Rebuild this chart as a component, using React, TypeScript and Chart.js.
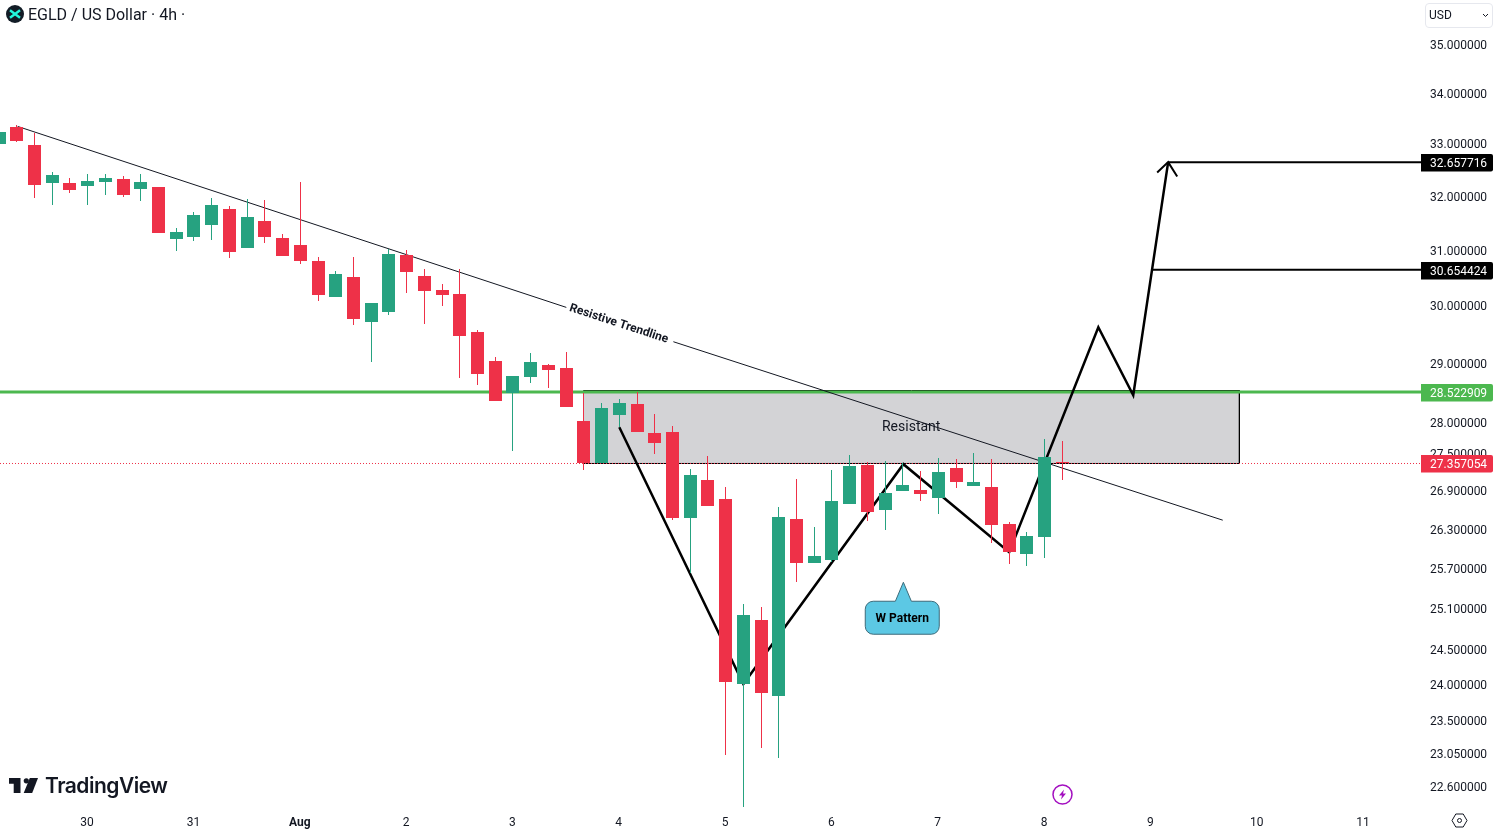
import React, { useEffect, useRef } from "react";
import { Chart, registerables } from "chart.js";

Chart.register(...registerables);

const firstCandle = -5;
const opens = [33.0, 33.332, 32.98, 32.251, 32.251, 32.194, 32.27, 32.327, 32.138, 32.175, 31.206, 31.243, 31.464, 31.761, 31.041, 31.538, 31.225, 31.096, 30.804, 30.158, 30.515, 29.718, 29.893, 30.913, 30.533, 30.283, 30.211, 29.543, 29.043, 28.502, 28.771, 28.975, 28.924, 28.036, 27.352, 28.135, 28.318, 27.839, 27.855, 26.481, 27.08, 26.778, 24.016, 24.938, 23.847, 26.465, 25.788, 25.834, 26.7, 27.32, 26.606, 26.905, 26.921, 26.794, 27.271, 26.984, 26.968, 26.387, 25.925, 26.186, 27.374];
const closes = [33.234, 33.059, 32.213, 32.404, 32.119, 32.289, 32.346, 32.024, 32.27, 31.316, 31.335, 31.649, 31.836, 30.967, 31.612, 31.243, 30.895, 30.804, 30.193, 30.569, 29.771, 30.052, 30.931, 30.605, 30.265, 30.193, 29.473, 28.822, 28.368, 28.788, 29.026, 28.89, 28.268, 27.352, 28.251, 28.335, 27.855, 27.675, 26.481, 27.159, 26.669, 24.044, 25.011, 23.889, 26.496, 25.788, 25.895, 26.747, 27.304, 26.574, 26.873, 27.0, 26.857, 27.207, 27.048, 27.048, 26.371, 25.955, 26.201, 27.449, 27.357054];
const highs = [33.27, 33.371, 33.215, 32.461, 32.346, 32.423, 32.423, 32.384, 32.423, 32.175, 31.408, 31.705, 31.968, 31.817, 31.949, 31.93, 31.298, 32.27, 30.877, 30.623, 30.877, 30.052, 31.023, 31.004, 30.66, 30.39, 30.66, 29.578, 29.111, 28.788, 29.18, 28.992, 29.197, 28.502, 28.335, 28.401, 28.519, 28.152, 27.954, 27.255, 27.465, 26.968, 25.174, 25.13, 26.653, 27.095, 26.34, 27.239, 27.481, 27.368, 27.384, 27.352, 27.223, 27.432, 27.416, 27.513, 27.416, 26.418, 26.263, 27.74, 27.708];
const lows = [32.961, 33.039, 31.968, 31.836, 32.062, 31.836, 32.024, 31.986, 31.911, 31.316, 30.986, 31.169, 31.188, 30.859, 31.041, 31.132, 30.895, 30.75, 30.087, 30.158, 29.665, 29.026, 29.84, 30.229, 29.683, 29.999, 28.754, 28.636, 28.368, 27.546, 28.67, 28.586, 28.268, 27.239, 27.352, 27.938, 27.855, 27.497, 26.449, 25.637, 26.669, 23.033, 22.34, 23.128, 22.993, 25.502, 25.788, 25.803, 26.7, 26.434, 26.294, 26.905, 26.747, 26.543, 26.952, 26.984, 26.093, 25.773, 25.743, 25.864, 27.08];

const priceTicks = [35, 34, 33, 32, 31, 30, 29, 28, 27.5, 26.9, 26.3, 25.7, 25.1, 24.5, 24, 23.5, 23.05, 22.6];
const dayTickIndex = [0, 6, 12, 18, 24, 30, 36, 42, 48, 54, 60, 66, 72];
const dayLabels = ["30", "31", "Aug", "2", "3", "4", "5", "6", "7", "8", "9", "10", "11"];

const trendA = [{ x: -3.95, y: 33.352 }, { x: 27.01, y: 29.98 }];
const trendB = [{ x: 33.05, y: 29.38 }, { x: 64.05, y: 26.449 }];
const wPath = [
  { x: 30.0, y: 27.938 }, { x: 37.0, y: 24.016 }, { x: 46.03, y: 27.336 }, { x: 52.0, y: 25.955 },
  { x: 57.03, y: 29.631 }, { x: 59.0, y: 28.468 }, { x: 60.97, y: 32.657716 },
];
const arrowHead = [{ x: 60.35, y: 32.461 }, { x: 60.97, y: 32.657716 }, { x: 61.48, y: 32.384 }];
const zone = [
  { x: 27.98, y: 28.548 }, { x: 64.99, y: 28.548 }, { x: 64.99, y: 27.347 }, { x: 27.98, y: 27.347 }, { x: 27.98, y: 28.548 },
];

const target1 = 32.657716;
const target2 = 30.654424;
const supportLevel = 28.522909;
const lastPrice = 27.357054;
const lastPriceLine = 27.347;
const xMin = -4.9458;
const xMax = 75.237;
const yMin = 22.325;
const yMax = 35.93;

const RED = "#ee3148";
const GREEN = "#26a280";
const INK = "#131722";
const LEVEL_GREEN = "#4cb84f";

const upOrDown = opens.map((o, i) => (closes[i] >= o ? GREEN : RED));

const snapBars = {
  id: "snapBars",
  afterDatasetsUpdate(chart: any) {
    chart.data.datasets.forEach((ds: any, di: number) => {
      if (ds.type !== "bar") return;
      chart.getDatasetMeta(di).data.forEach((el: any) => {
        el.x = Math.floor(el.x) + 0.5;
        el.y = Math.round(el.y);
        el.base = Math.round(el.base);
        if (Math.abs(el.base - el.y) < 1) el.base = el.y + 1;
      });
    });
  },
};

const annotations = {
  id: "annotations",
  afterDatasetsDraw(chart: any) {
    const { ctx, scales } = chart;
    const sx = scales.x;
    const sy = scales.y;
    ctx.save();
    // trendline caption
    const cx = sx.getPixelForValue(29.97);
    const cy = sy.getPixelForValue(29.69);
    ctx.translate(cx, cy);
    ctx.rotate(Math.atan(0.327));
    ctx.font = "bold 12px Roboto";
    ctx.fillStyle = INK;
    ctx.textAlign = "center";
    ctx.textBaseline = "middle";
    ctx.fillText("Resistive Trendline", 0, 0);
    ctx.restore();

    ctx.save();
    ctx.font = "14px Roboto";
    ctx.fillStyle = INK;
    ctx.textAlign = "center";
    ctx.textBaseline = "middle";
    ctx.fillText("Resistant", sx.getPixelForValue(46.47), sy.getPixelForValue(27.93));

    // callout
    const mid = sx.getPixelForValue(46);
    const by = sy.getPixelForValue(25.32);
    const left = mid - 37.6;
    const right = left + 74;
    const top = by + 7;
    const h = 33;
    const r = 8;
    ctx.beginPath();
    ctx.moveTo(left + r, top);
    ctx.lineTo(mid - 7.5, top);
    ctx.lineTo(mid + 0.5, top - 19);
    ctx.lineTo(mid + 8.5, top);
    ctx.lineTo(right - r, top);
    ctx.arcTo(right, top, right, top + r, r);
    ctx.lineTo(right, top + h - r);
    ctx.arcTo(right, top + h, right - r, top + h, r);
    ctx.lineTo(left + r, top + h);
    ctx.arcTo(left, top + h, left, top + h - r, r);
    ctx.lineTo(left, top + r);
    ctx.arcTo(left, top, left + r, top, r);
    ctx.closePath();
    ctx.fillStyle = "#5cc8e4";
    ctx.fill();
    ctx.strokeStyle = "#3d6b7a";
    ctx.lineWidth = 1;
    ctx.stroke();
    ctx.fillStyle = "#000";
    ctx.font = "bold 12px Roboto";
    ctx.fillText("W Pattern", (left + right) / 2, top + h / 2 + 1.5);
    ctx.restore();
  },
  afterDraw(chart: any) {
    const { ctx, scales } = chart;
    const sy = scales.y;
    const tags = [
      { v: target1, c: "#000000" },
      { v: target2, c: "#000000" },
      { v: supportLevel, c: LEVEL_GREEN },
      { v: lastPrice, c: RED },
    ];
    ctx.save();
    ctx.font = "12px Roboto";
    ctx.textAlign = "left";
    ctx.textBaseline = "middle";
    tags.forEach(({ v, c }) => {
      const yc = Math.round(sy.getPixelForValue(v));
      ctx.fillStyle = c;
      ctx.beginPath();
      ctx.roundRect(1421, yc - 8, 72, 17.5, [0, 2, 2, 0]);
      ctx.fill();
      ctx.fillStyle = "#ffffff";
      ctx.fillText(v.toFixed(6), 1430, yc + 2);
    });
    ctx.restore();
  },
};

export default function App() {
  const ref = useRef<HTMLCanvasElement | null>(null);

  useEffect(() => {
    document.body.style.margin = "0";
    document.body.style.background = "#fff";
    const lineBase = { type: "line", pointRadius: 0, tension: 0, fill: false };
    const chart = new Chart(ref.current as HTMLCanvasElement, {
      type: "bar",
      data: {
        datasets: [
          {
            type: "bar",
            label: "Body",
            order: 0,
            data: opens.map((o, i) => ({ x: firstCandle + i, y: [o, closes[i]] })),
            backgroundColor: upOrDown,
            barThickness: 13,
            grouped: false,
            inflateAmount: 0,
            borderWidth: 0,
          },
          {
            type: "bar",
            label: "Wick",
            order: 1,
            data: lows.map((l, i) => ({ x: firstCandle + i, y: [l, highs[i]] })),
            backgroundColor: upOrDown,
            barThickness: 1,
            grouped: false,
            inflateAmount: 0,
            borderWidth: 0,
          },
          { ...lineBase, label: "Trend A", order: 2, data: trendA, borderColor: "#131722", borderWidth: 1 },
          { ...lineBase, label: "Trend B", order: 2, data: trendB, borderColor: "#131722", borderWidth: 1 },
          { ...lineBase, label: "W", order: 3, data: wPath, borderColor: "#000", borderWidth: 2.5 },
          { ...lineBase, label: "Arrow", order: 3, data: arrowHead, borderColor: "#000", borderWidth: 2 },
          { ...lineBase, label: "T1", order: 3, data: [{ x: 60.97, y: target1 }, { x: xMax, y: target1 }], borderColor: "#000", borderWidth: 2 },
          { ...lineBase, label: "T2", order: 3, data: [{ x: 60, y: target2 }, { x: xMax, y: target2 }], borderColor: "#000", borderWidth: 2 },
          { ...lineBase, label: "Support", order: 4, data: [{ x: xMin, y: supportLevel }, { x: xMax, y: supportLevel }], borderColor: LEVEL_GREEN, borderWidth: 3 },
          { ...lineBase, label: "Last", order: 4, data: [{ x: xMin, y: lastPriceLine }, { x: xMax, y: lastPriceLine }], borderColor: RED, borderWidth: 1, borderDash: [1, 2] },
          { ...lineBase, label: "Zone", order: 5, data: zone, fill: "shape", backgroundColor: "#d3d3d6", borderColor: "#000", borderWidth: 1 },
        ],
      } as any,
      options: {
        responsive: false,
        animation: false,
        events: [],
        layout: { padding: 0, autoPadding: false },
        plugins: { legend: { display: false }, tooltip: { enabled: false }, title: { display: false } },
        scales: {
          x: {
            type: "linear",
            offset: false,
            min: xMin,
            max: xMax,
            grid: { display: false, drawTicks: false },
            border: { display: false },
            afterFit: (s: any) => { s.height = 25; s.paddingLeft = 0; s.paddingRight = 0; },
            afterBuildTicks: (s: any) => { s.ticks = dayTickIndex.map((value) => ({ value })); },
            ticks: {
              autoSkip: false,
              maxRotation: 0,
              padding: 8,
              labelOffset: -0.6,
              color: INK,
              font: (c: any) => ({ family: "Roboto", size: 12, weight: c.index === 2 ? "bold" : "normal" }),
              callback: (_v: any, i: number) => dayLabels[i],
            },
          },
          y: {
            type: "logarithmic",
            position: "right",
            bounds: "data",
            min: yMin,
            max: yMax,
            grid: { display: false, drawTicks: false },
            border: { display: false },
            afterFit: (s: any) => { s.width = 74; s.paddingTop = 0; s.paddingBottom = 0; },
            afterBuildTicks: (s: any) => { s.ticks = priceTicks.map((value) => ({ value })); },
            ticks: {
              autoSkip: false,
              padding: 9,
              labelOffset: 1,
              color: INK,
              font: { family: "Roboto", size: 12 },
              callback: (v: any) => Number(v).toFixed(6),
            },
          },
        },
      } as any,
      plugins: [snapBars, annotations],
    });
    return () => chart.destroy();
  }, []);

  return (
    <div style={{ position: "fixed", left: 0, top: 0, width: 1495, height: 833, overflow: "hidden", background: "#fff" }}>
      <canvas ref={ref} width={1495} height={833} style={{ display: "block", width: 1495, height: 833 }} />
      <svg style={{ position: "absolute", left: 6, top: 5 }} width={18} height={18} viewBox="0 0 18 18">
        <circle cx={9} cy={9} r={9} fill="#121c26" />
        <path d="M4 5.2 L14 12.8 M14 5.2 L4 12.8" stroke="#23f7dd" strokeWidth={2.4} fill="none" />
      </svg>
      <div style={{ position: "absolute", left: 28, top: 6, font: "16px Roboto", lineHeight: "18px", color: INK, whiteSpace: "nowrap" }}>
        EGLD / US Dollar · 4h ·
      </div>
      <div style={{ position: "absolute", left: 1425, top: 3, width: 66, height: 23, border: "1px solid #e6e8ee", borderRadius: 4, boxSizing: "content-box", font: "12px Roboto", lineHeight: "23px", color: INK, textIndent: 3 }}>
        USD
        <svg style={{ position: "absolute", right: 3, top: 9 }} width={7} height={5} viewBox="0 0 7 5">
          <path d="M1 1 L3.5 3.5 L6 1" stroke={INK} strokeWidth={1} fill="none" />
        </svg>
      </div>
      <svg style={{ position: "absolute", left: 9, top: 778 }} width={29} height={15} viewBox="0 0 29 15">
        <path d="M0 0 H11.5 V15 H4.7 V5.7 H0 Z" fill={INK} />
        <circle cx={17.3} cy={2.8} r={2.6} fill={INK} />
        <path d="M20.8 0 H29 L23.2 15 H14.7 Z" fill={INK} />
      </svg>
      <div style={{ position: "absolute", left: 45, top: 772, font: "600 21px Inter", lineHeight: "28px", letterSpacing: "-0.5px", color: INK, whiteSpace: "nowrap" }}>
        TradingView
      </div>
      <svg style={{ position: "absolute", left: 1052, top: 784 }} width={21} height={21} viewBox="0 0 21 21">
        <circle cx={10.5} cy={10.5} r={9.5} fill="none" stroke="#a30fc0" strokeWidth={1.5} />
        <path d="M12 5.5 L7 11.5 H10 L9 15.5 L14 9.5 H11 Z" fill="#a30fc0" />
      </svg>
      <svg style={{ position: "absolute", left: 1451, top: 813 }} width={17} height={15} viewBox="0 0 17 15">
        <path d="M1 7.5 L4.8 1 H12.2 L16 7.5 L12.2 14 H4.8 Z" fill="none" stroke={INK} strokeWidth={1} />
        <circle cx={8.5} cy={7.5} r={2} fill="none" stroke={INK} strokeWidth={1} />
      </svg>
    </div>
  );
}
